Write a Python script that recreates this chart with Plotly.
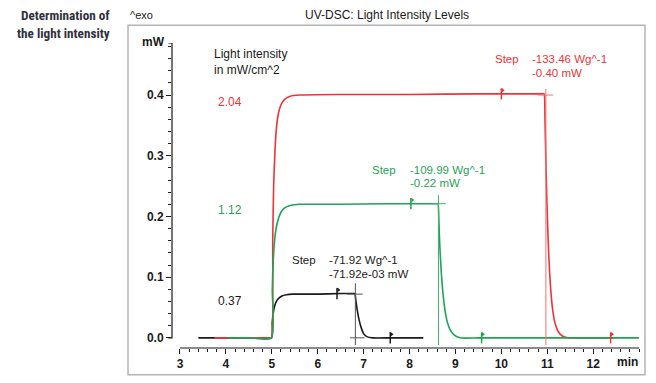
import plotly.graph_objects as go

# ---------------- data ----------------
red_x = [3.75, 4.0, 4.5, 4.98, 5.0, 5.02, 5.04, 5.07, 5.1, 5.14, 5.2, 5.28, 5.4, 5.6, 6.5, 8.0, 9.5, 10.9, 10.93,
         10.95, 10.97, 10.99, 11.02, 11.05, 11.08, 11.12, 11.17, 11.24, 11.33, 11.45, 12.0, 12.45]
red_y = [0.0, 0.0, 0.0, 0.0, 0.0, 0.16, 0.25, 0.31, 0.345, 0.368, 0.384, 0.393, 0.398, 0.400, 0.401, 0.401, 0.402, 0.402, 0.402,
         0.36, 0.29, 0.23, 0.16, 0.11, 0.075, 0.045, 0.024, 0.010, 0.003, 0.0, 0.0, 0.0]

green_x = [4.05, 4.5, 4.99, 5.01, 5.03, 5.06, 5.1, 5.15, 5.2, 5.28, 5.4, 5.6, 6.5, 7.5, 8.6, 8.62,
           8.64, 8.66, 8.69, 8.72, 8.76, 8.81, 8.88, 8.97, 9.1, 9.5, 10.5, 11.5, 13.0]
green_y = [0.0, 0.0, 0.0, 0.08, 0.125, 0.16, 0.183, 0.198, 0.207, 0.214, 0.218, 0.220, 0.220, 0.221, 0.221, 0.221,
           0.19, 0.15, 0.11, 0.08, 0.052, 0.030, 0.014, 0.005, 0.0, 0.0, 0.0, 0.0, 0.0]

black_x = [3.4, 4.0, 4.5, 4.99, 5.01, 5.03, 5.06, 5.1, 5.15, 5.22, 5.32, 5.45, 6.0, 6.5, 6.79, 6.81,
           6.83, 6.86, 6.9, 6.95, 7.0, 7.07, 7.2, 7.6, 8.3]
black_y = [0.0, 0.0, 0.0, 0.0, 0.025, 0.040, 0.052, 0.060, 0.065, 0.069, 0.071, 0.072, 0.072, 0.073, 0.073, 0.073,
           0.062, 0.046, 0.030, 0.016, 0.007, 0.002, 0.0, 0.0, 0.0]

# event flags (x, y) on each curve
red_flags_x, red_flags_y = [10.0, 12.38], [0.402, 0.0]
green_flags_x, green_flags_y = [8.03, 9.57], [0.221, 0.0]
black_flags_x, black_flags_y = [6.42, 7.58], [0.073, 0.0]

# step evaluation points (x, plateau level)
red_step = (10.97, 0.40)
green_step = (8.63, 0.221)
black_step = (6.82, 0.072)

x_ticks = [3, 4, 5, 6, 7, 8, 9, 10, 11, 12]
y_ticks = [0.0, 0.1, 0.2, 0.3, 0.4]
y_labels = ["0.0", "0.1", "0.2", "0.3", "0.4"]

RED = "#ee3338"
GREEN = "#1fa356"
BLACK = "#1a1a1a"
FONT = "Liberation Sans, Arial, sans-serif"

fig = go.Figure()

for xs, ys, col in [(black_x, black_y, BLACK), (red_x, red_y, RED), (green_x, green_y, GREEN)]:
    fig.add_trace(go.Scatter(x=xs, y=ys, mode="lines", line=dict(color=col, width=1.6, shape="spline", smoothing=0.6),
                             hoverinfo="skip", showlegend=False))

for fx, fy, col in [(black_flags_x, black_flags_y, BLACK), (red_flags_x, red_flags_y, RED),
                    (green_flags_x, green_flags_y, GREEN)]:
    fig.add_trace(go.Scatter(x=fx, y=fy, mode="markers",
                             marker=dict(symbol="line-ns", size=8, line=dict(color=col, width=1.5)),
                             hoverinfo="skip", showlegend=False))
    fig.add_trace(go.Scatter(x=[v + 0.03 for v in fx], y=[v + 0.006 for v in fy], mode="markers",
                             marker=dict(symbol="triangle-right", size=4, color=col),
                             hoverinfo="skip", showlegend=False))

# step crosshairs
for (sx, sy), col, top in [(red_step, "#f07070", 0.41), (green_step, "#40b070", 0.235), (black_step, "#555555", 0.09)]:
    fig.add_shape(type="line", xref="x", yref="y", x0=sx, x1=sx, y0=top, y1=-0.012,
                  line=dict(color=col, width=1))
    fig.add_shape(type="line", xref="x", yref="y", x0=sx - 0.18, x1=sx + 0.16, y0=sy, y1=sy,
                  line=dict(color=col, width=1))
fig.add_shape(type="line", xref="x", yref="y", x0=black_step[0] - 0.12, x1=black_step[0] + 0.2, y0=0, y1=0,
              line=dict(color="#555555", width=1))

# axis lines
fig.add_shape(type="line", xref="x", yref="paper", x0=3, x1=13.0, y0=0, y1=0, line=dict(color=BLACK, width=1.2))
fig.add_shape(type="path", xref="paper", yref="y", path="M -0.008,0 L 0,0 L 0,0.486 L -0.008,0.486",
              line=dict(color=BLACK, width=1.2))

# outer frame
fig.add_shape(type="rect", xref="paper", yref="paper", x0=-0.094, x1=1.0107, y0=-0.0874, y1=1.058,
              line=dict(color="#b4b4b4", width=1.5))

ann = []
def txt(x, y, s, col=BLACK, size=11.5, xref="x", yref="y", xanchor="left", yanchor="middle", bold=False, family=FONT):
    if bold:
        s = "<b>" + s + "</b>"
    ann.append(dict(x=x, y=y, xref=xref, yref=yref, text=s, showarrow=False, xanchor=xanchor, yanchor=yanchor,
                    align=xanchor if xanchor != "middle" else "center", font=dict(color=col, size=size, family=family)))

txt(3.70, 0.482, "Light intensity<br>in mW/cm^2", yanchor="top", size=12)
txt(3.78, 0.388, "2.04", RED, size=12)
txt(3.78, 0.211, "1.12", GREEN, size=12)
txt(3.78, 0.0613, "0.37", BLACK, size=12)

txt(9.82, 0.460, "Step", RED)
txt(10.63, 0.460, "-133.46 Wg^-1", RED)
txt(10.63, 0.437, "-0.40 mW", RED)
txt(7.14, 0.276, "Step", GREEN)
txt(7.97, 0.276, "-109.99 Wg^-1", GREEN)
txt(7.97, 0.255, "-0.22 mW", GREEN)
txt(5.40, 0.128, "Step", BLACK)
txt(6.20, 0.128, "-71.92 Wg^-1", BLACK)
txt(6.20, 0.105, "-71.92e-03 mW", BLACK)

txt(0.459, 1.0906, "UV-DSC: Light Intensity Levels", xref="paper", yref="paper", xanchor="center", size=12)
txt(-0.094, 1.0906, "^exo", xref="paper", yref="paper", size=11)
txt(-0.0107, 1.003, "mW", xref="paper", yref="paper", xanchor="right", size=12, bold=True)
txt(0.974, -0.045, "min", xref="paper", yref="paper", xanchor="center", size=12, bold=True)
TFONT = "Liberation Sans Narrow, Roboto Condensed, Liberation Sans, Arial"
txt(-0.129, 1.0906, "Determination of", "#30303c", xref="paper", yref="paper", xanchor="right", size=13.2, bold=True,
    family=TFONT)
txt(-0.129, 1.0324, "the light intensity", "#30303c", xref="paper", yref="paper", xanchor="right", size=13.2, bold=True,
    family=TFONT)

# the page adds an 8px body margin, so the figure is 8px smaller than the window
fig.update_layout(
    width=648, height=375, margin=dict(l=164, r=16, t=35, b=31),
    paper_bgcolor="white", plot_bgcolor="white", annotations=ann, showlegend=False,
    xaxis=dict(range=[2.826, 13.02], showgrid=False, zeroline=False, showline=False,
               tickvals=x_ticks, ticktext=[str(v) for v in x_ticks], ticks="outside", ticklen=5, tickwidth=1.2,
               tickcolor=BLACK, tickfont=dict(family=FONT, size=12, color=BLACK, weight="bold"),
               minor=dict(dtick=0.2, tick0=0, ticks="outside", ticklen=3, tickcolor=BLACK, tickwidth=1)),
    yaxis=dict(range=[-0.01675, 0.4858], showgrid=False, zeroline=False, showline=False,
               tickvals=y_ticks, ticktext=y_labels, ticks="outside", ticklen=5, tickwidth=1.2,
               tickcolor=BLACK, tickfont=dict(family=FONT, size=12, color=BLACK, weight="bold"),
               minor=dict(dtick=0.02, tick0=0, ticks="outside", ticklen=3, tickcolor=BLACK, tickwidth=1)),
)

fig.write_html("out.html")
